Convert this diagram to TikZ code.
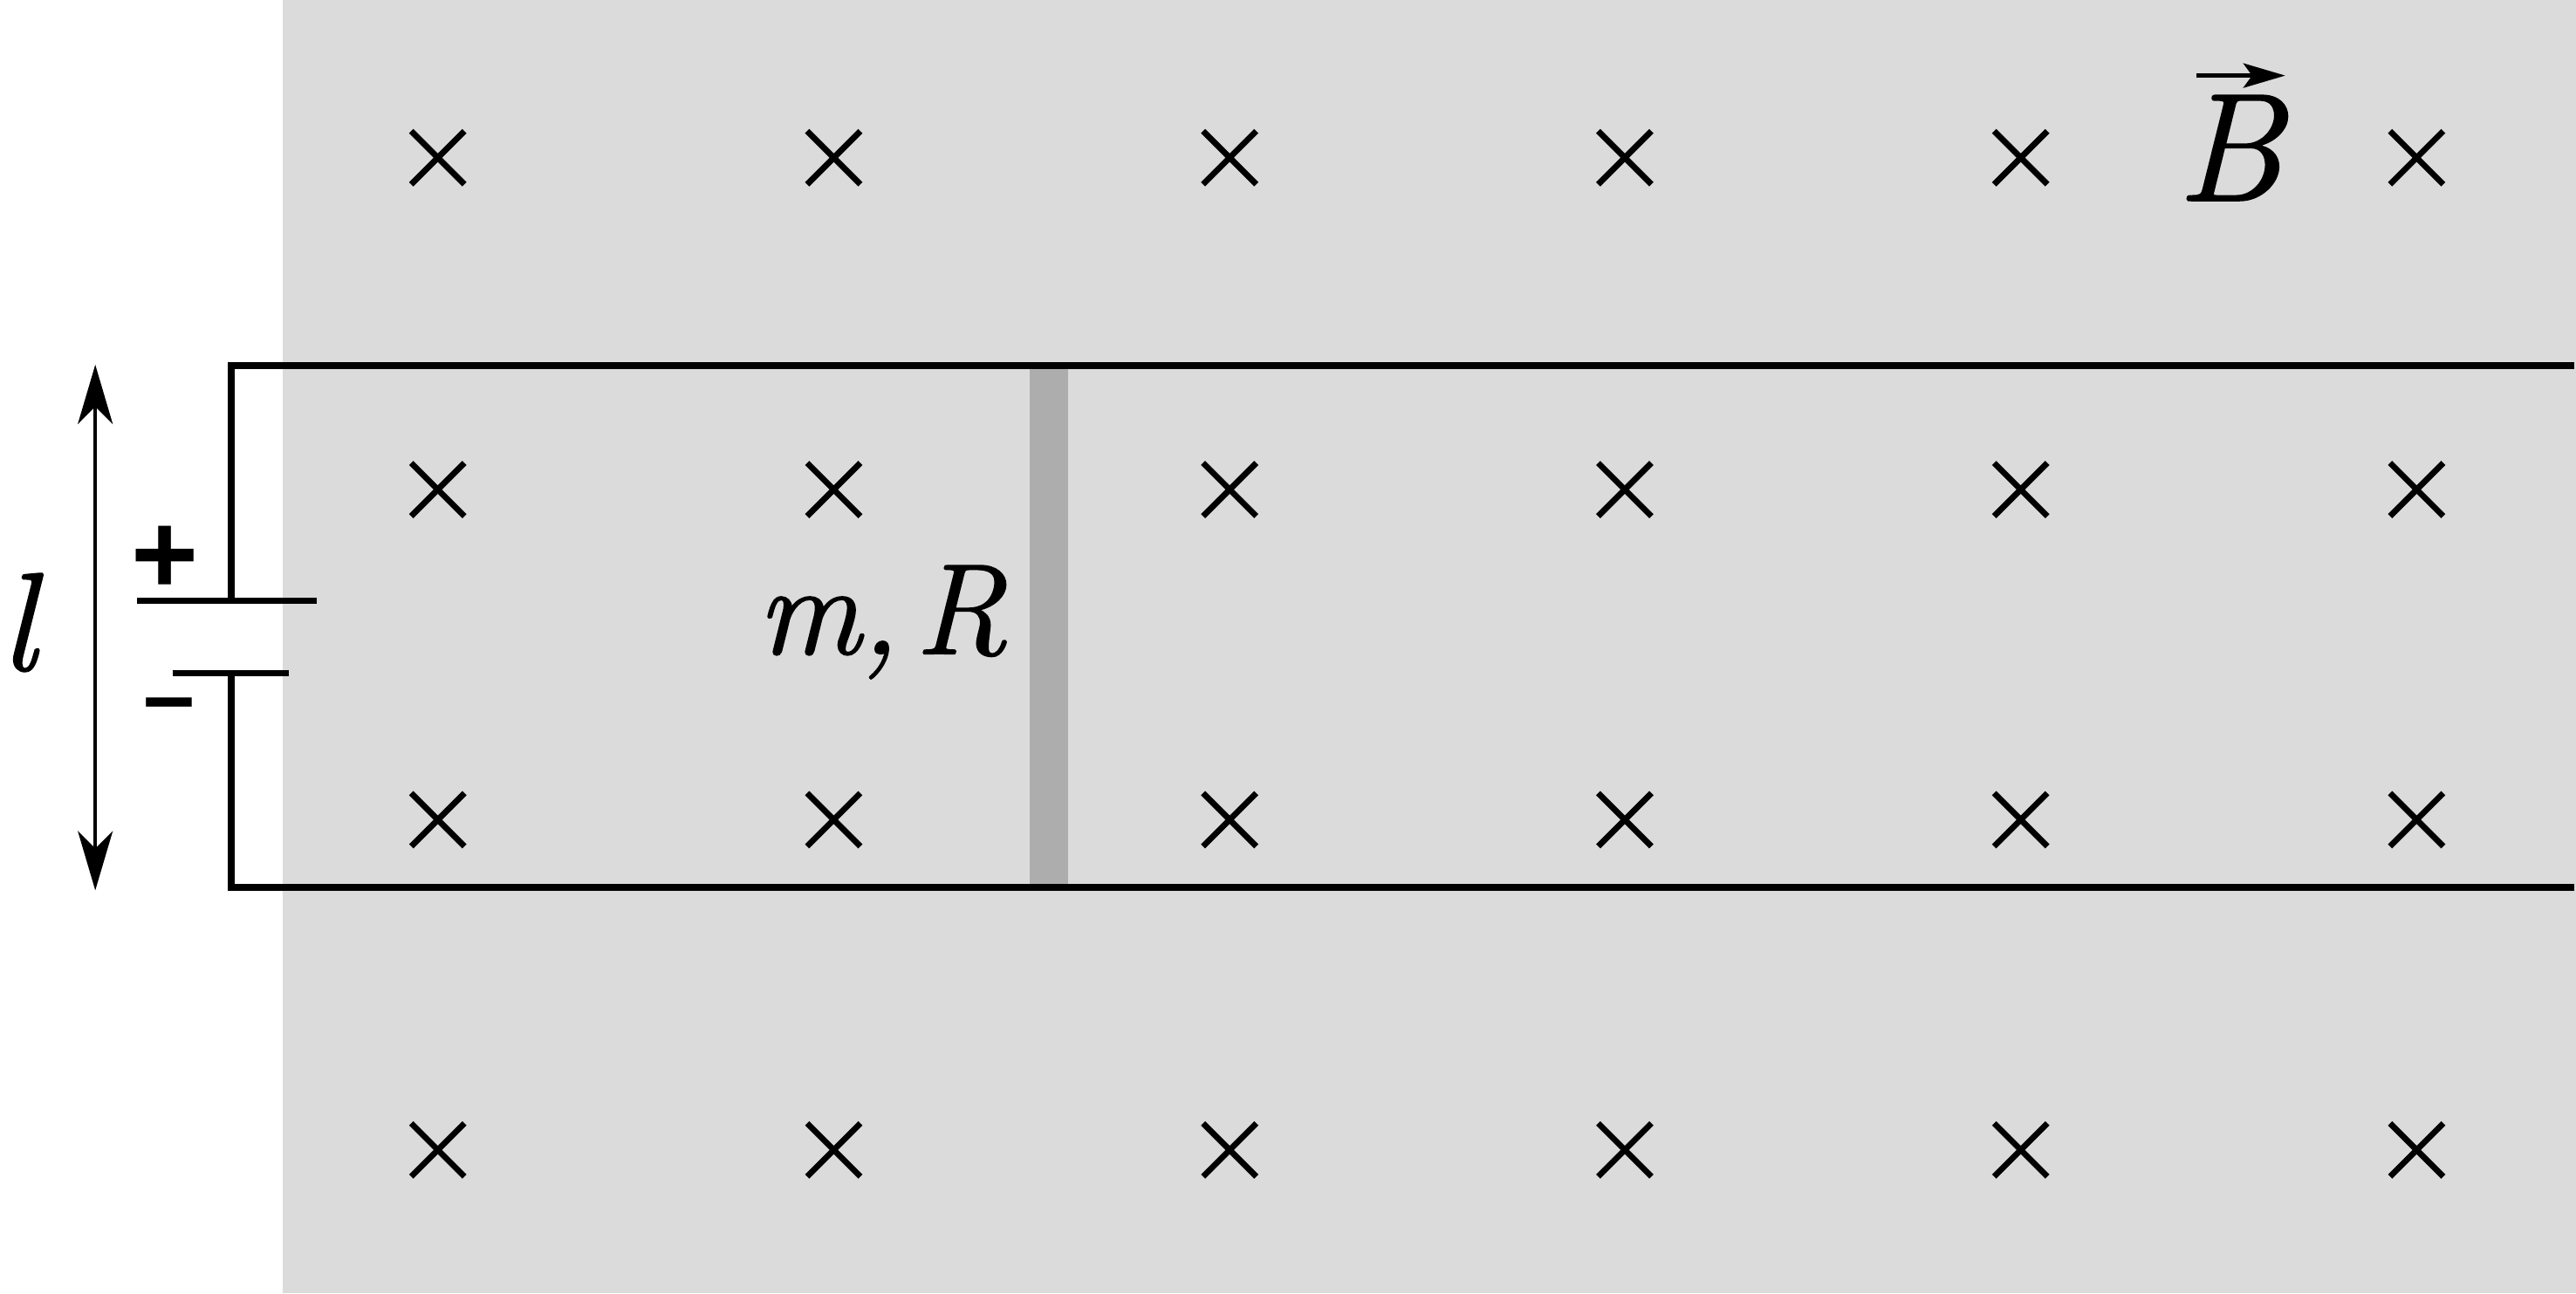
\documentclass[tikz,border=0pt]{standalone}
\usepackage{fontspec}
\newfontfamily\signfont{Liberation Sans}
\newfontfamily\symbfont{Latin Modern Roman}[ItalicFeatures={FakeBold=1.2}]
\usetikzlibrary{arrows.meta}
\definecolor{fieldgray}{HTML}{DBDBDB}
\definecolor{rodgray}{HTML}{ADADAD}
\tikzset{
  wire/.style={line width=2.0pt,black,line cap=butt,line join=miter},
  plate/.style={line width=1.75pt,black},
  crossmark/.style={line width=1.7pt,black},
  dimline/.style={line width=0.9pt,black,{Stealth[length=17pt,width=10pt,inset=5pt]}-{Stealth[length=17pt,width=10pt,inset=5pt]}},
  vecline/.style={line width=1.2pt,black,-{Stealth[length=12pt,width=7pt,inset=2.5pt]}},
  symb/.style={inner sep=0pt,outer sep=0pt,anchor=base west,font=\symbfont\fontsize{37}{37}\selectfont\itshape},
  symbB/.style={inner sep=0pt,outer sep=0pt,anchor=base west,font=\symbfont\fontsize{44}{44}\selectfont\itshape},
  lensymb/.style={inner sep=0pt,outer sep=0pt,anchor=base west,font=\symbfont\fontsize{40}{40}\selectfont\itshape},
}
\begin{document}
\begin{tikzpicture}[x=0.47066pt,y=-0.47066pt]
\useasboundingbox (0,0) rectangle (1568,787.18);
\fill[fieldgray] (172,0) rectangle (1568,787.18);
\fill[rodgray] (627,221) rectangle (650,540);
\foreach \cx in {266.5,507.5,748.5,989,1230,1471}
  \foreach \cy in {96,298,499,700}
    \draw[crossmark] (\cx-16.2,\cy-16.2) -- (\cx+16.2,\cy+16.2) (\cx-16.2,\cy+16.2) -- (\cx+16.2,\cy-16.2);
% battery and rails
\coordinate (topend) at (1567,222.5);
\coordinate (botend) at (1567,540);
\coordinate (topcorner) at (141,222.5);
\coordinate (botcorner) at (141,540);
\coordinate (posL) at (83.5,365.5);
\coordinate (posR) at (193,365.5);
\coordinate (posM) at (141,365.5);
\coordinate (negL) at (105,410);
\coordinate (negR) at (176,410);
\coordinate (negM) at (141,410);
\draw[wire] (topend) -- (topcorner) -- (posM);
\draw[wire] (botend) -- (botcorner) -- (negM);
\draw[plate] (posL) -- (posR);
\draw[plate] (negL) -- (negR);
% dimension arrow
\coordinate (dimtop) at (58,222);
\coordinate (dimbot) at (58,542);
\draw[dimline] (dimbot) -- (dimtop);
% labels
\node[lensymb] (lenlabel) at (0.5,408) {l};
\node[symb] (rodlabel) at (461,398) {m,\hspace{0.12em}R};
\node[symbB] (fieldlabel) at (1325,122) {B};
\coordinate (vecL) at (1337,46);
\coordinate (vecR) at (1391,46);
\draw[vecline] (vecL) -- (vecR);
\node[inner sep=0pt,font=\signfont\bfseries\fontsize{33}{33}\selectfont] (plus) at (100.5,341) {+};
\node[inner sep=0pt,font=\signfont\bfseries\fontsize{26.5}{26.5}\selectfont] (minus) at (103,434) {–};
\end{tikzpicture}
\end{document}
